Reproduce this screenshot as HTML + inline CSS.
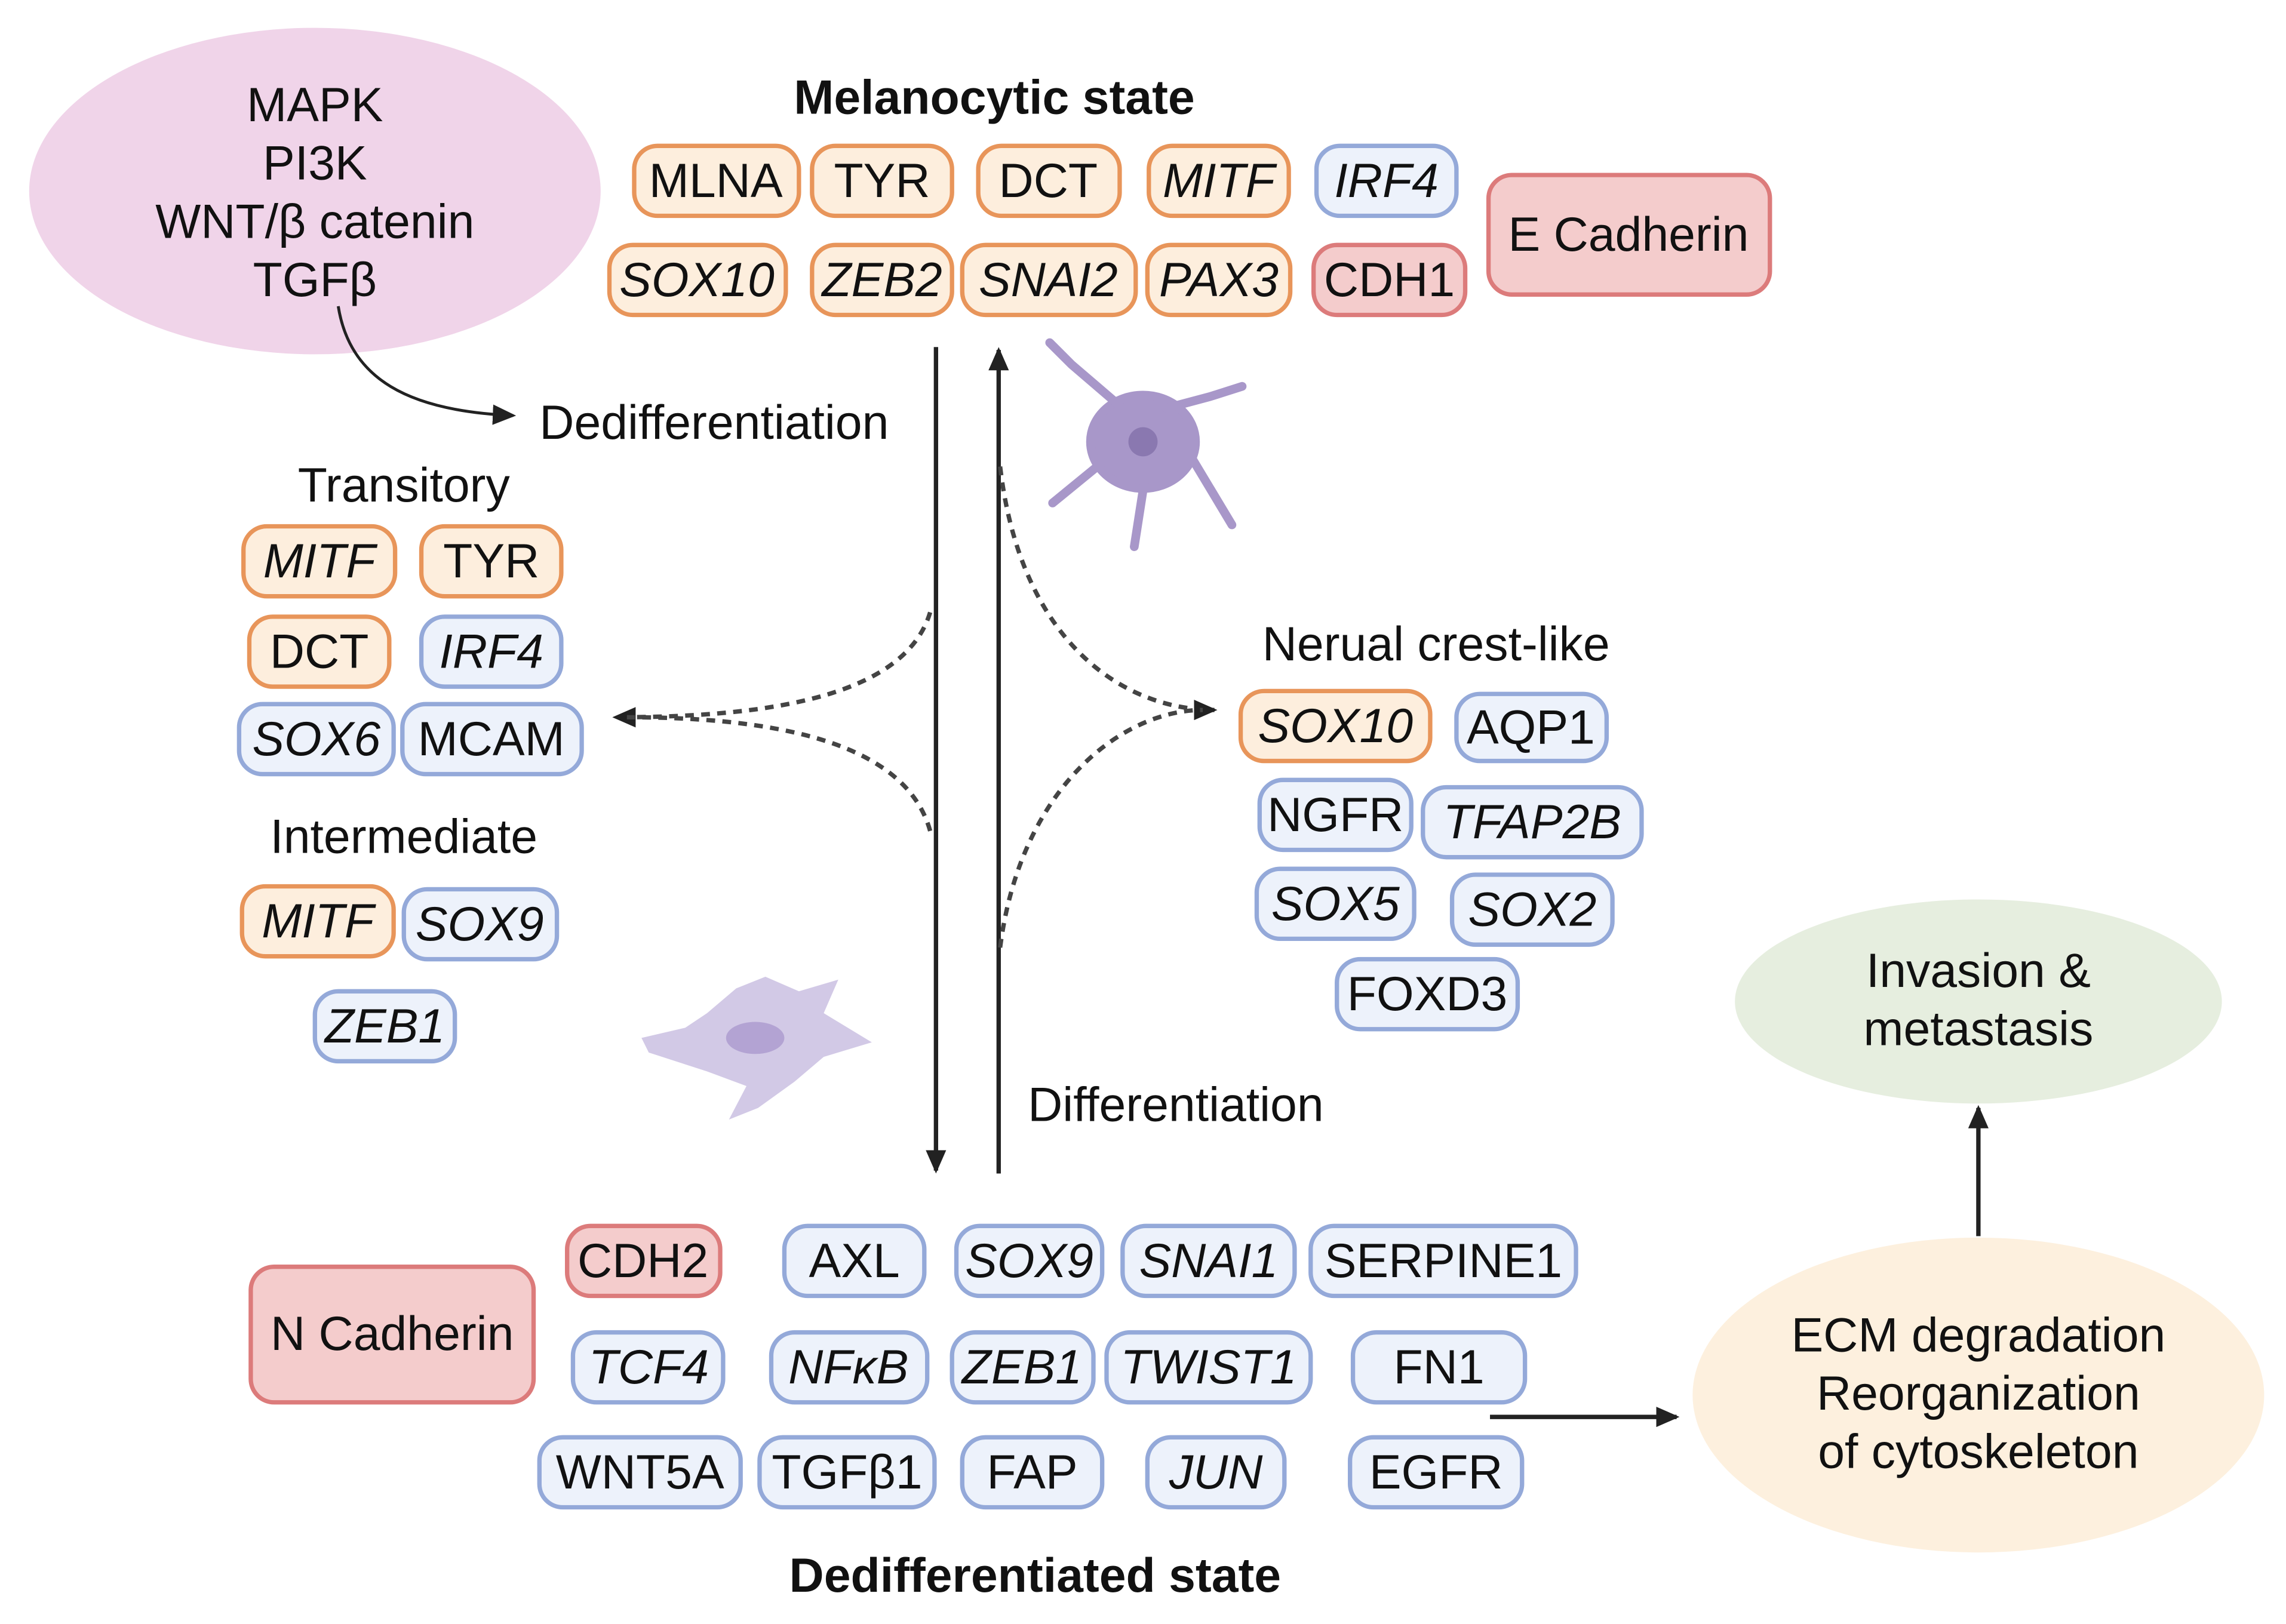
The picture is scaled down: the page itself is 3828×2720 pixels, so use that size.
<!DOCTYPE html>
<html><head><style>html,body{margin:0;padding:0;background:#fff}svg{display:block}</style></head><body>
<svg width="3828" height="2720" viewBox="0 0 1568 1114" xmlns="http://www.w3.org/2000/svg" font-family="Liberation Sans, sans-serif">
<defs>
<marker id="ah2" markerWidth="16" markerHeight="14" refX="14" refY="7" orient="auto" markerUnits="userSpaceOnUse"><path d="M0,0 L16,7 L0,14 z" fill="#222"/></marker>
</defs>
<style>
.o{fill:#fdeedd;stroke:#e8955a;stroke-width:3}
.b{fill:#edf2fb;stroke:#94a9d9;stroke-width:3}
.r{fill:#f4cccc;stroke:#dc7b7b;stroke-width:3}
text{font-size:33px;fill:#111;text-anchor:middle;dominant-baseline:central}
text.s{text-anchor:start}
.i{font-style:italic}
</style>
<ellipse cx="216" cy="131" rx="196" ry="112" fill="#f0d4e9"/>
<text x="216" y="72">MAPK</text><text x="216" y="112">PI3K</text><text x="216" y="152">WNT/β catenin</text><text x="216" y="192">TGFβ</text>
<text x="682" y="67" font-weight="bold">Melanocytic state</text>
<g>
<rect class="o" x="435" y="100" width="113" height="48" rx="16"/><text x="491" y="124">MLNA</text>
<rect class="o" x="557" y="100" width="96" height="48" rx="16"/><text x="605" y="124">TYR</text>
<rect class="o" x="671" y="100" width="97" height="48" rx="16"/><text x="719" y="124">DCT</text>
<rect class="o" x="788" y="100" width="96" height="48" rx="16"/><text class="i" x="836" y="124">MITF</text>
<rect class="b" x="903" y="100" width="96" height="48" rx="16"/><text class="i" x="951" y="124">IRF4</text>
<rect class="o" x="418" y="168" width="121" height="48" rx="16"/><text class="i" x="478" y="192">SOX10</text>
<rect class="o" x="557" y="168" width="96" height="48" rx="16"/><text class="i" x="605" y="192">ZEB2</text>
<rect class="o" x="660" y="168" width="119" height="48" rx="16"/><text class="i" x="719" y="192">SNAI2</text>
<rect class="o" x="787" y="168" width="98" height="48" rx="16"/><text class="i" x="836" y="192">PAX3</text>
<rect class="r" x="901" y="168" width="104" height="48" rx="16"/><text x="953" y="192">CDH1</text>
<rect class="r" x="1021" y="120" width="193" height="82" rx="16"/><text x="1117" y="161">E Cadherin</text>
</g>
<path d="M232,210 C240,260 280,282 352,285" fill="none" stroke="#222" stroke-width="2" marker-end="url(#ah2)"/>
<text class="s" x="370" y="290">Dedifferentiation</text>
<text x="277" y="333">Transitory</text>
<rect class="o" x="167" y="361" width="104" height="48" rx="16"/><text class="i" x="219" y="385">MITF</text>
<rect class="o" x="289" y="361" width="96" height="48" rx="16"/><text x="337" y="385">TYR</text>
<rect class="o" x="171" y="423" width="96" height="48" rx="16"/><text x="219" y="447">DCT</text>
<rect class="b" x="289" y="423" width="96" height="48" rx="16"/><text class="i" x="337" y="447">IRF4</text>
<rect class="b" x="164" y="483" width="106" height="48" rx="16"/><text class="i" x="217" y="507">SOX6</text>
<rect class="b" x="276" y="483" width="123" height="48" rx="16"/><text x="337" y="507">MCAM</text>
<text x="277" y="574">Intermediate</text>
<rect class="o" x="166" y="608" width="104" height="48" rx="16"/><text class="i" x="218" y="632">MITF</text>
<rect class="b" x="277" y="610" width="105" height="48" rx="16"/><text class="i" x="329" y="634">SOX9</text>
<rect class="b" x="216" y="680" width="96" height="48" rx="16"/><text class="i" x="264" y="704">ZEB1</text>
<line x1="642" y1="238" x2="642" y2="803" stroke="#222" stroke-width="3" marker-end="url(#ah2)"/>
<line x1="685" y1="805" x2="685" y2="240" stroke="#222" stroke-width="3" marker-end="url(#ah2)"/>
<g fill="none" stroke="#444" stroke-width="3" stroke-dasharray="6,5">
<path d="M638,420 C620,480 520,492 422,492" marker-end="url(#ah2)"/>
<path d="M638,570 C620,505 520,492 430,492"/>
<path d="M686,320 C700,440 770,487 833,487" marker-end="url(#ah2)"/>
<path d="M686,650 C700,540 770,487 825,487"/>
</g>
<g fill="#a897c9" stroke="#a897c9" stroke-width="6" stroke-linecap="round">
<ellipse cx="784" cy="303" rx="36" ry="32"/>
<path d="M770,280 L735,250 L720,235 M800,280 L830,272 L852,265 M815,310 L845,360 M785,330 L778,375 M755,318 L722,345" fill="none"/>
</g>
<circle cx="784" cy="303" r="10" fill="#8a78b0"/>
<path d="M440,712 L470,705 L485,695 L505,678 L525,670 L548,680 L575,672 L565,695 L598,715 L565,725 L545,742 L520,760 L500,768 L512,745 L485,735 L445,722 z" fill="#d2c9e6"/>
<ellipse cx="518" cy="712" rx="20" ry="11" fill="#b3a3d3"/>
<text x="985" y="442">Nerual crest-like</text>
<rect class="o" x="851" y="474" width="130" height="48" rx="16"/><text class="i" x="916" y="498">SOX10</text>
<rect class="b" x="999" y="476" width="103" height="46" rx="16"/><text x="1050" y="499">AQP1</text>
<rect class="b" x="864" y="535" width="104" height="48" rx="16"/><text x="916" y="559">NGFR</text>
<rect class="b" x="976" y="540" width="150" height="48" rx="16"/><text class="i" x="1051" y="564">TFAP2B</text>
<rect class="b" x="862" y="596" width="108" height="48" rx="16"/><text class="i" x="916" y="620">SOX5</text>
<rect class="b" x="996" y="600" width="110" height="48" rx="16"/><text class="i" x="1051" y="624">SOX2</text>
<rect class="b" x="917" y="658" width="124" height="48" rx="16"/><text x="979" y="682">FOXD3</text>
<text class="s" x="705" y="758">Differentiation</text>
<rect class="r" x="172" y="869" width="194" height="93" rx="16"/><text x="269" y="915">N Cadherin</text>
<rect class="r" x="389" y="841" width="105" height="48" rx="16"/><text x="441" y="865">CDH2</text>
<rect class="b" x="538" y="841" width="96" height="48" rx="16"/><text x="586" y="865">AXL</text>
<rect class="b" x="656" y="841" width="100" height="48" rx="16"/><text class="i" x="706" y="865">SOX9</text>
<rect class="b" x="770" y="841" width="118" height="48" rx="16"/><text class="i" x="829" y="865">SNAI1</text>
<rect class="b" x="899" y="841" width="182" height="48" rx="16"/><text x="990" y="865">SERPINE1</text>
<rect class="b" x="393" y="914" width="103" height="48" rx="16"/><text class="i" x="445" y="938">TCF4</text>
<rect class="b" x="529" y="914" width="107" height="48" rx="16"/><text class="i" x="582" y="938">NFκB</text>
<rect class="b" x="653" y="914" width="97" height="48" rx="16"/><text class="i" x="701" y="938">ZEB1</text>
<rect class="b" x="759" y="914" width="140" height="48" rx="16"/><text class="i" x="829" y="938">TWIST1</text>
<rect class="b" x="928" y="914" width="118" height="48" rx="16"/><text x="987" y="938">FN1</text>
<rect class="b" x="370" y="986" width="138" height="48" rx="16"/><text x="439" y="1010">WNT5A</text>
<rect class="b" x="521" y="986" width="120" height="48" rx="16"/><text x="581" y="1010">TGFβ1</text>
<rect class="b" x="660" y="986" width="96" height="48" rx="16"/><text x="708" y="1010">FAP</text>
<rect class="b" x="787" y="986" width="94" height="48" rx="16"/><text class="i" x="834" y="1010">JUN</text>
<rect class="b" x="926" y="986" width="118" height="48" rx="16"/><text x="985" y="1010">EGFR</text>
<text x="710" y="1081" font-weight="bold">Dedifferentiated state</text>
<line x1="1022" y1="972" x2="1150" y2="972" stroke="#222" stroke-width="3" marker-end="url(#ah2)"/>
<ellipse cx="1357" cy="957" rx="196" ry="108" fill="#fdf0de"/>
<text x="1357" y="916">ECM degradation</text><text x="1357" y="956">Reorganization</text><text x="1357" y="996">of cytoskeleton</text>
<line x1="1357" y1="848" x2="1357" y2="760" stroke="#222" stroke-width="3" marker-end="url(#ah2)"/>
<ellipse cx="1357" cy="687" rx="167" ry="70" fill="#e6eedf"/>
<text x="1357" y="666">Invasion &amp;</text><text x="1357" y="706">metastasis</text>
</svg>
</body></html>
